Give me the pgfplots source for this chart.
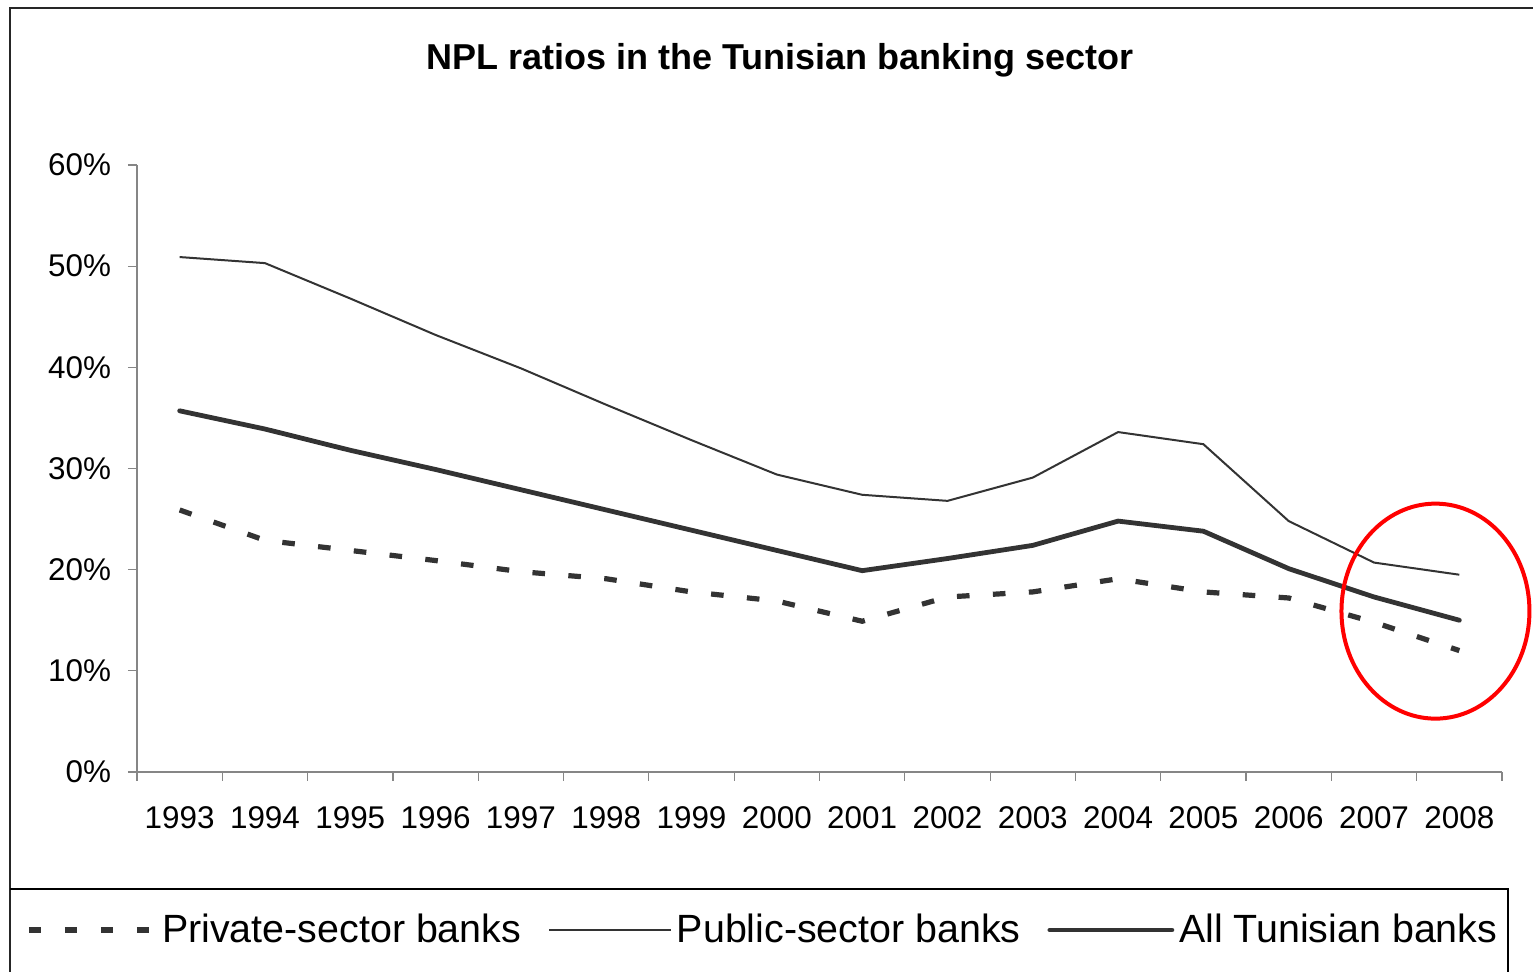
\documentclass[border=0pt]{standalone}
\usepackage{pgfplots}
\pgfplotsset{compat=1.18}
\usepackage{fontspec}
\setmainfont{Liberation Sans}
\definecolor{ln}{HTML}{333333}
\definecolor{ax}{HTML}{868686}
\pgfplotsset{dashlegend/.style={legend image code/.code={\draw[##1] (0pt,0pt) -- (63pt,0pt);}}}
\begin{document}
\begin{tikzpicture}[x=1pt,y=1pt]
\useasboundingbox (0,0) rectangle (766.5,486);
\draw[line width=1.1pt, black!85] (5,-20) -- (5,482) -- (800,482);
\draw[line width=0.6pt] (5,41.5) -- (754,41.5) -- (754,-20);
\node[font=\fontsize{18}{21}\selectfont\bfseries] at (390,456) {NPL ratios in the Tunisian banking sector};
\begin{axis}[
  at={(68.5pt,100pt)}, anchor=south west,
  scale only axis, width=682.5pt, height=303.5pt,
  xmin=-0.5, xmax=15.5, ymin=0, ymax=60,
  axis x line=bottom, axis y line=left,
  axis line style={ax, line width=0.6pt, -},
  xtick={-0.5,0.5,...,15.5},
  xticklabels={1993,1994,1995,1996,1997,1998,1999,2000,2001,2002,2003,2004,2005,2006,2007,2008},
  x tick label as interval,
  ytick={0,10,...,60},
  yticklabels={0\%,10\%,20\%,30\%,40\%,50\%,60\%},
  tick align=outside,
  major tick length=4.5pt,
  tick style={ax, line width=0.6pt},
  tick label style={font=\fontsize{15.7}{18}\selectfont, black},
  xticklabel style={yshift=-9.5pt},
  yticklabel style={xshift=-5pt},
  clip=false,
  legend style={draw=none, fill=none, at={(axis description cs:-0.0815,-0.2603)}, anchor=west,
    legend columns=3, font=\fontsize{19.7}{23}\selectfont, inner sep=0pt,
    nodes={inner xsep=2.4pt},
    /tikz/every even column/.append style={column sep=11pt}},
  legend image code/.code={\draw[#1] (0pt,0pt) -- (61pt,0pt);},
]
\addplot[ln, line width=2.6pt, dash pattern=on 6.3pt off 11.7pt, dashlegend] coordinates {
(0,25.9) (1,22.9) (2,21.9) (3,20.9) (4,19.8) (5,19.1) (6,17.8) (7,16.9)
(8,14.9) (9,17.3) (10,17.8) (11,19.1) (12,17.8) (13,17.2) (14,14.8) (15,12.0)};
\addlegendentry{Private-sector banks}
\addplot[ln, line width=1pt] coordinates {
(0,50.9) (1,50.3) (2,46.8) (3,43.2) (4,39.9) (5,36.3) (6,32.8) (7,29.4)
(8,27.4) (9,26.8) (10,29.1) (11,33.6) (12,32.4) (13,24.8) (14,20.7) (15,19.5)};
\addlegendentry{Public-sector banks}
\addplot[ln, line width=2.4pt, line cap=round] coordinates {
(0,35.7) (1,33.9) (2,31.8) (3,29.9) (4,27.9) (5,25.9) (6,23.9) (7,21.9)
(8,19.9) (9,21.1) (10,22.4) (11,24.8) (12,23.8) (13,20.1) (14,17.3) (15,15.0)};
\addlegendentry{All Tunisian banks}
\draw[red, line width=2pt] (axis cs:14.72,15.9) ellipse [x radius=47pt, y radius=53.75pt];
\end{axis}
\end{tikzpicture}
\end{document}
